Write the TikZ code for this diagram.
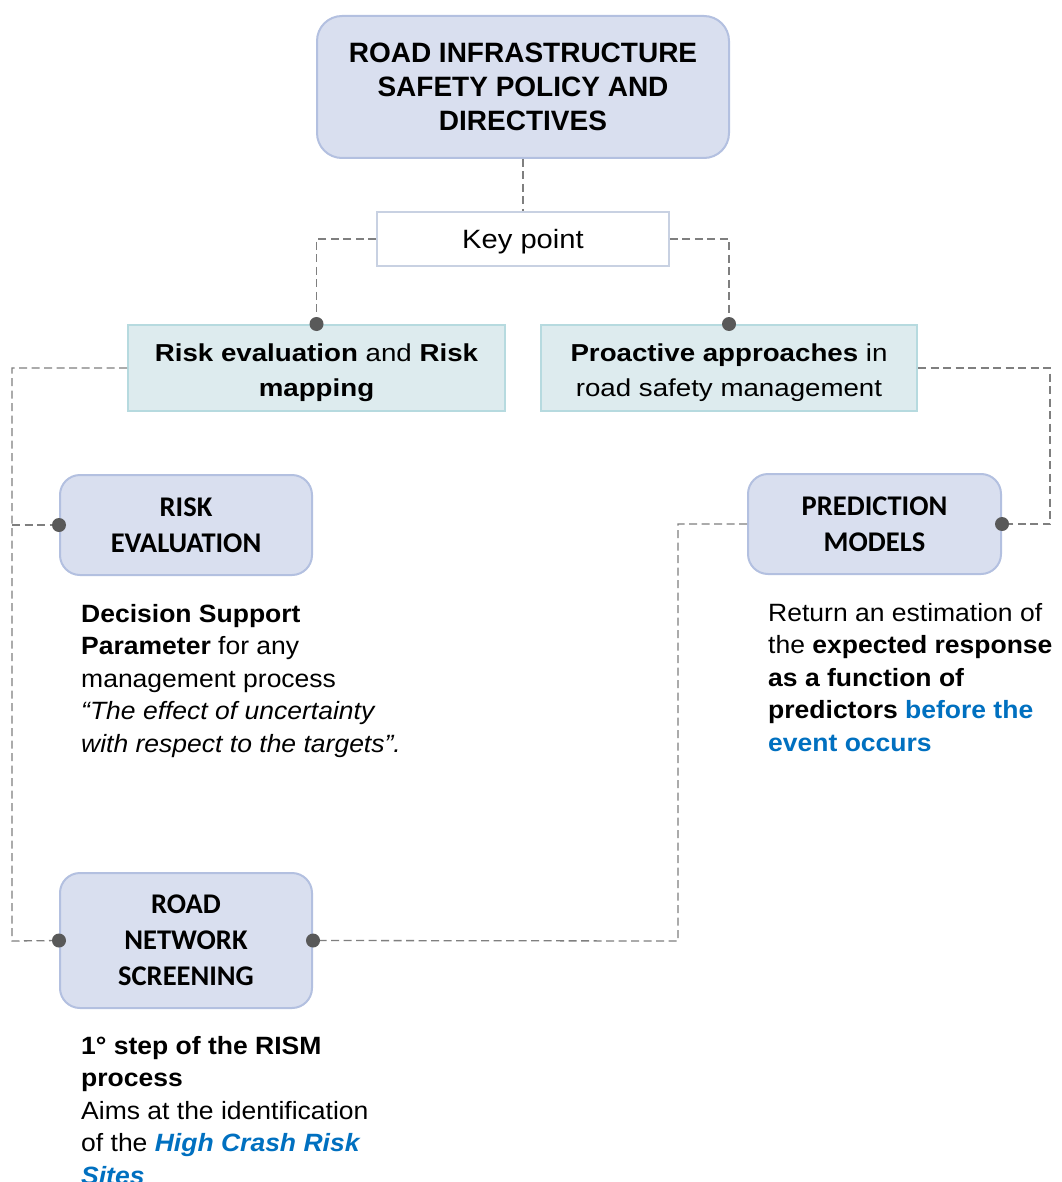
\documentclass[tikz,border=0pt]{standalone}
\usepackage{fontspec}
\setmainfont{Liberation Sans}
\newfontfamily\calfont{Carlito}
\newfontfamily\keyfont[FakeStretch=1.1]{Liberation Sans}
\newfontfamily\topicfont[FakeStretch=1.13]{Liberation Sans}
\newfontfamily\notefont[FakeStretch=1.06]{Liberation Sans}
\definecolor{lavfill}{HTML}{D9DFEF}
\definecolor{lavdraw}{HTML}{B3C0E0}
\definecolor{tealfill}{HTML}{DDEBEE}
\definecolor{tealdraw}{HTML}{B6DADF}
\definecolor{keydraw}{HTML}{C8D1E2}
\definecolor{linkgray}{HTML}{7F7F7F}
\definecolor{dotgray}{HTML}{595959}
\definecolor{hiblue}{HTML}{0070C0}
\tikzset{
  mainbox/.style={draw=lavdraw, fill=lavfill, line width=2pt, rounded corners=25pt,
    align=center, inner sep=0pt, font={\bfseries\fontsize{28}{34}\selectfont}},
  keybox/.style={draw=keydraw, fill=white, line width=1.6pt, align=center, inner sep=0pt,
    text height=24pt, text depth=4.6pt, font={\keyfont\fontsize{26.5}{34}\selectfont}},
  topicbox/.style={draw=tealdraw, fill=tealfill, line width=2pt, align=center, inner sep=0pt,
    text height=60pt, text depth=2.6pt, font={\topicfont\fontsize{24.5}{35}\selectfont}},
  stagebox/.style={draw=lavdraw, fill=lavfill, line width=2pt, rounded corners=20pt,
    align=center, inner sep=0pt, font={\calfont\bfseries\fontsize{28.5}{36}\selectfont}},
  link/.style={draw=linkgray, line width=1.3pt, dash pattern=on 8pt off 4.5pt},
  joint/.style={fill=dotgray},
  note/.style={anchor=base west, inner sep=0pt, font={\notefont\fontsize{25}{32.5}\selectfont}}
}
\begin{document}
\begin{tikzpicture}[x=1pt, y=-1pt]
\clip (0,0) rectangle (1061,1182);
\fill[white] (0,0) rectangle (1061,1182);

% boxes
\node[mainbox, minimum width=412pt, minimum height=142pt] (policy) at (523,87)
  {ROAD INFRASTRUCTURE\\SAFETY POLICY AND\\DIRECTIVES};
\node[keybox, minimum width=292pt, minimum height=54pt] (key) at (523,239) {Key point};
\node[topicbox, minimum width=377pt, minimum height=86pt] (riskmap) at (316.5,368)
  {\textbf{Risk evaluation} and \textbf{Risk}\\\textbf{mapping}};
\node[topicbox, minimum width=376pt, minimum height=86pt] (proact) at (729,368)
  {\textbf{Proactive approaches} in\\road safety management};
\node[stagebox, minimum width=252pt, minimum height=100pt] (riskeval) at (186,525)
  {RISK\\EVALUATION};
\node[stagebox, minimum width=253pt, minimum height=100pt] (pred) at (874.5,524)
  {PREDICTION\\MODELS};
\node[stagebox, minimum width=252pt, minimum height=135pt] (screen) at (186,940.5)
  {ROAD\\NETWORK\\SCREENING};

% corner points of the connectors
\coordinate (lt) at (12,368);
\coordinate (lb) at (12,941);
\coordinate (rt) at (1050,368);
\coordinate (rb) at (1050,524);
\coordinate (mt) at (678,524);
\coordinate (mb) at (678,941);

% connectors
\draw[link] (policy.south) -- (key.north);
\draw[link] (key.west) -| (riskmap.north);
\draw[link] (key.east) -| (proact.north);
\draw[link] (riskmap.west) -- (lt) -- (lb) -- (screen.west);
\draw[link] (riskeval.west -| lt) -- (riskeval.west);
\draw[link] (proact.east) -- (rt) -- (rb) -- (pred.east);
\draw[link] (pred.west) -- (mt) -- (mb) -- (screen.east);

% joints
\fill[joint] (riskmap.north) circle (7pt);
\fill[joint] (proact.north) circle (7pt);
\fill[joint] (riskeval.west) circle (7pt);
\fill[joint] (pred.east) circle (7pt);
\fill[joint] (screen.west) circle (7pt);
\fill[joint] (screen.east) circle (7pt);

% notes
\node[note] (noteeval) at (81,622) {\parbox[t]{340pt}{\raggedright
  \textbf{Decision Support}\\
  \textbf{Parameter} for any\\
  management process\\
  \textit{“The effect of uncertainty}\\
  \textit{with respect to the targets”.}}};
\node[note] (notepred) at (768,621) {\parbox[t]{300pt}{\raggedright
  Return an estimation of\\
  the \textbf{expected response}\\
  \textbf{as a function of}\\
  \textbf{predictors \textcolor{hiblue}{before the}}\\
  \textbf{\textcolor{hiblue}{event occurs}}}};
\node[note] (notescreen) at (81,1054) {\parbox[t]{340pt}{\raggedright
  \textbf{1° step of the RISM}\\
  \textbf{process}\\
  Aims at the identification\\
  of the \textcolor{hiblue}{\bfseries\itshape High Crash Risk}\\
  \textcolor{hiblue}{\bfseries\itshape Sites}}};
\end{tikzpicture}
\end{document}
